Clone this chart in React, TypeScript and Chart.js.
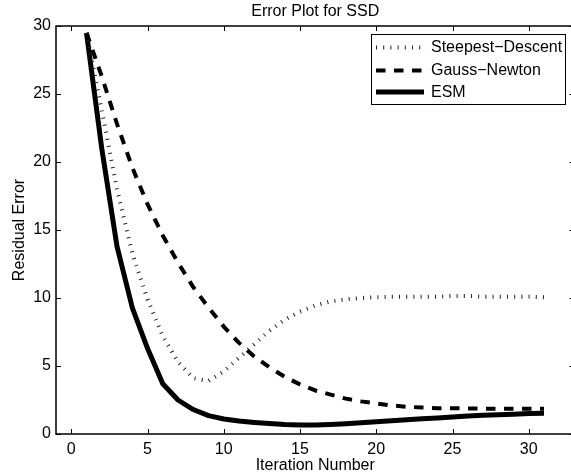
import React, { useEffect, useRef } from 'react';
import { Chart, registerables } from 'chart.js';

Chart.register(...registerables);

// ---- data ----
const iterations = [1, 2, 3, 4, 5, 6, 7, 8, 9, 10, 11, 12, 13, 14, 15, 16, 17, 18, 19, 20, 21, 22, 23, 24, 25, 26, 27, 28, 29, 30, 31];
const steepestDescent = [29.5, 23.8, 18.0, 13.3, 9.9, 7.2, 5.3, 4.1, 3.9, 4.6, 5.6, 6.6, 7.6, 8.4, 9.0, 9.45, 9.75, 9.9, 10.0, 10.05, 10.1, 10.1, 10.1, 10.1, 10.15, 10.15, 10.1, 10.1, 10.1, 10.1, 10.05];
const gaussNewton = [29.5, 26.3, 22.8, 19.6, 16.9, 14.6, 12.6, 10.8, 9.3, 7.9, 6.7, 5.7, 4.9, 4.2, 3.65, 3.2, 2.9, 2.6, 2.4, 2.25, 2.1, 2.0, 1.95, 1.9, 1.9, 1.88, 1.86, 1.85, 1.85, 1.85, 1.85];
const esm = [29.5, 21.0, 13.8, 9.3, 6.3, 3.7, 2.5, 1.8, 1.35, 1.1, 0.95, 0.85, 0.77, 0.7, 0.67, 0.67, 0.7, 0.75, 0.82, 0.9, 0.97, 1.05, 1.12, 1.18, 1.25, 1.32, 1.37, 1.42, 1.46, 1.5, 1.52];

const xTicks = [0, 5, 10, 15, 20, 25, 30];
const yTicks = [0, 5, 10, 15, 20, 25, 30];
const seriesLabels = ['Steepest\u2212Descent', 'Gauss\u2212Newton', 'ESM'];
const chartTitle = 'Error Plot for SSD';
const xTitle = 'Iteration Number';
const yTitle = 'Residual Error';

const FONT = '"Liberation Sans", Arial, Helvetica, sans-serif';

const styles = [
  { width: 4, dash: [1, 6.2], color: '#222' },
  { width: 4, dash: [9.5, 8.5], color: '#000' },
  { width: 5, dash: [] as number[], color: '#000' },
];

const framePlugin = {
  id: 'matlabFrame',
  afterDatasetsDraw(chart: any) {
    const { ctx, chartArea: a, scales } = chart;
    const xs = scales.x;
    const ys = scales.y;
    ctx.save();
    ctx.setLineDash([]);
    ctx.strokeStyle = '#000';
    ctx.lineWidth = 1.5;
    const L = a.left, R = a.right, T = a.top, B = a.bottom;
    ctx.beginPath();
    ctx.rect(L, T, R - L, B - T);
    ctx.stroke();
    ctx.lineWidth = 1;
    const tl = 5;
    ctx.beginPath();
    xTicks.forEach((v) => {
      const px = Math.round(xs.getPixelForValue(v)) + 0.5;
      ctx.moveTo(px, B);
      ctx.lineTo(px, B - tl);
      ctx.moveTo(px, T);
      ctx.lineTo(px, T + tl);
    });
    yTicks.forEach((v) => {
      const py = Math.round(ys.getPixelForValue(v)) + 0.5;
      ctx.moveTo(L, py);
      ctx.lineTo(L + tl, py);
      ctx.moveTo(R, py);
      ctx.lineTo(R - tl, py);
    });
    ctx.stroke();

    // titles
    const cx = (L + R) / 2;
    ctx.fillStyle = '#000';
    ctx.font = `16px ${FONT}`;
    ctx.textAlign = 'center';
    ctx.textBaseline = 'alphabetic';
    ctx.fillText(chartTitle, cx, 15.5);
    ctx.fillText(xTitle, cx, 470);
    ctx.save();
    ctx.translate(24, (T + B) / 2);
    ctx.rotate(-Math.PI / 2);
    ctx.fillText(yTitle, 0, 0);
    ctx.restore();

    // legend
    const lx = 371.5, ly = 34.5, lw = 194, lh = 70;
    ctx.fillStyle = '#fff';
    ctx.fillRect(lx, ly, lw, lh);
    ctx.strokeStyle = '#000';
    ctx.lineWidth = 1;
    ctx.strokeRect(lx, ly, lw, lh);
    const rows = [47.5, 70.5, 92];
    rows.forEach((ry, i) => {
      const s = styles[i];
      ctx.beginPath();
      ctx.setLineDash(s.dash);
      ctx.lineWidth = s.width;
      ctx.strokeStyle = s.color;
      ctx.lineCap = 'butt';
      ctx.moveTo(376, ry);
      ctx.lineTo(424, ry);
      ctx.stroke();
      ctx.setLineDash([]);
      ctx.fillStyle = '#000';
      ctx.textAlign = 'left';
      ctx.textBaseline = 'middle';
      ctx.font = `16px ${FONT}`;
      ctx.fillText(seriesLabels[i], 431, ry + 0.5);
    });
    ctx.restore();
  },
};

export default function App() {
  const ref = useRef<HTMLCanvasElement>(null);
  useEffect(() => {
    const canvas = ref.current!;
    const toPts = (ys: number[]) => iterations.map((x, i) => ({ x, y: ys[i] }));
    const seriesValues = [steepestDescent, gaussNewton, esm];
    const chart = new Chart(canvas, {
      type: 'line',
      data: {
        datasets: seriesValues.map((vals, i) => ({
          label: seriesLabels[i],
          data: toPts(vals),
          borderColor: styles[i].color,
          borderWidth: styles[i].width,
          borderDash: styles[i].dash,
          borderCapStyle: 'butt',
          borderJoinStyle: 'round',
          pointRadius: 0,
          tension: 0,
          fill: false,
        })),
      },
      options: {
        animation: false,
        responsive: false,
        devicePixelRatio: 1,
        layout: { padding: { top: 26, right: 15.5, left: 0, bottom: 0 } },
        plugins: { legend: { display: false }, title: { display: false }, tooltip: { enabled: false } },
        scales: {
          x: {
            type: 'linear',
            min: -1,
            max: 33,
            grid: { display: false, drawTicks: false },
            border: { display: false },
            afterBuildTicks: (scale: any) => {
              scale.ticks = xTicks.map((v) => ({ value: v }));
            },
            afterFit: (scale: any) => {
              scale.height = 41;
            },
            ticks: { color: '#000', font: { family: FONT, size: 16 }, padding: 6, maxRotation: 0, autoSkip: false },
          },
          y: {
            type: 'linear',
            min: 0,
            max: 30,
            grid: { display: false, drawTicks: false },
            border: { display: false },
            afterBuildTicks: (scale: any) => {
              scale.ticks = yTicks.map((v) => ({ value: v }));
            },
            afterFit: (scale: any) => {
              scale.width = 56;
            },
            ticks: { color: '#000', font: { family: FONT, size: 16 }, padding: 5 },
          },
        },
      },
      plugins: [framePlugin],
    } as any);
    return () => chart.destroy();
  }, []);
  return (
    <div style={{ position: 'fixed', left: 0, top: 0, width: 571, height: 475, overflow: 'hidden', background: '#fff' }}>
      <canvas ref={ref} width={590} height={475} style={{ width: 590, height: 475, display: 'block' }} />
    </div>
  );
}
